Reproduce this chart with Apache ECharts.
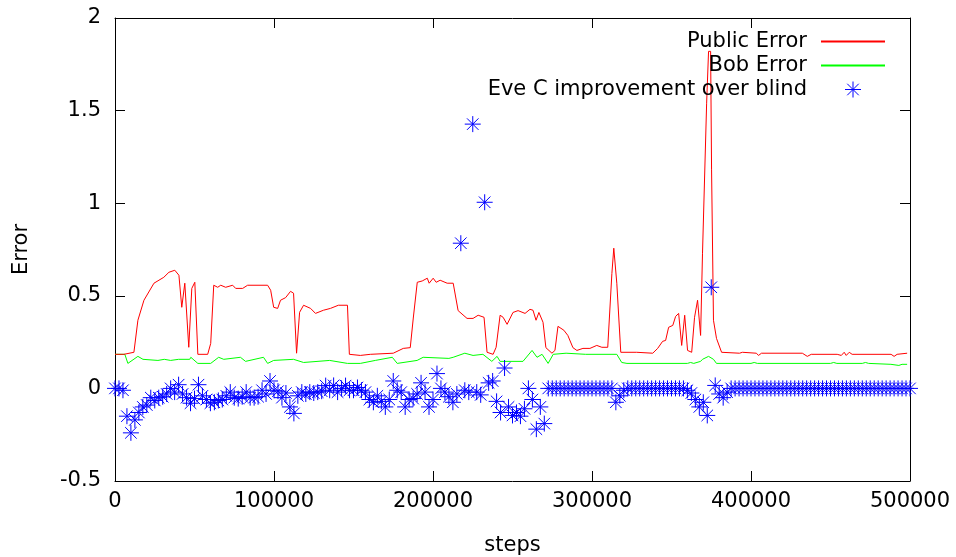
<!DOCTYPE html>
<html>
<head>
<meta charset="utf-8">
<script src="https://cdn.jsdelivr.net/npm/echarts@6/dist/echarts.min.js"></script>
<style>
html,body{margin:0;padding:0;background:#fff;}
#chart{width:956px;height:557px;}
</style>
</head>
<body>
<div id="chart"></div>
<script>
// ---- data ----
const seriesNames = ['Public Error', 'Bob Error', 'Eve C improvement over blind'];
const xTicks = [0, 100000, 200000, 300000, 400000, 500000];
const yTicks = [-0.5, 0, 0.5, 1, 1.5, 2];

// Public Error: [steps, error]
const publicError = [
  [0,0.184],[5600,0.184],[11900,0.195],[14400,0.368],[18200,0.476],[24500,0.568],[30700,0.6],[33900,0.627],
  [37600,0.638],[40200,0.611],[42000,0.438],[43900,0.568],[46400,0.222],[48300,0.54],[50200,0.573],[52100,0.184],
  [58300,0.184],[60200,0.243],[62100,0.557],[64600,0.546],[66500,0.557],[69600,0.546],[74000,0.557],[75900,0.54],
  [80300,0.54],[83400,0.557],[96000,0.557],[97900,0.53],[99800,0.438],[102300,0.432],[104100,0.476],[107300,0.49],
  [110400,0.524],[112300,0.514],[114200,0.19],[116100,0.411],[118600,0.449],[123000,0.432],[126100,0.405],[131100,0.422],
  [135500,0.432],[140500,0.449],[146200,0.449],[147400,0.184],[154300,0.178],[160600,0.184],[175000,0.19],[181300,0.216],
  [185700,0.22],[187600,0.38],[190100,0.573],[193200,0.58],[196400,0.595],[197600,0.568],[200100,0.595],[202000,0.573],
  [204500,0.584],[208900,0.568],[212700,0.568],[215800,0.42],[221400,0.378],[225200,0.378],[228400,0.395],[232100,0.384],
  [234000,0.195],[237800,0.184],[239700,0.222],[242200,0.395],[244100,0.384],[246600,0.346],[250300,0.41],[253500,0.42],
  [257900,0.405],[261000,0.427],[262900,0.422],[264800,0.368],[266600,0.41],[269200,0.357],[271000,0.22],[274800,0.19],
  [276700,0.205],[278600,0.335],[282300,0.314],[284800,0.286],[288000,0.22],[290500,0.205],[294300,0.216],[298700,0.216],
  [303000,0.232],[306200,0.222],[309900,0.222],[312500,0.62],[313700,0.757],[315600,0.568],[318100,0.195],[328100,0.195],
  [338200,0.19],[341300,0.216],[344400,0.254],[346300,0.259],[348200,0.33],[350800,0.34],[352600,0.389],[354500,0.405],
  [356400,0.232],[358300,0.395],[360100,0.205],[362700,0.195],[364500,0.384],[366400,0.476],[368300,0.286],[369500,0.73],
  [372100,1.54],[373300,1.82],[374600,1.82],[375200,1.18],[376400,0.368],[378300,0.27],[381500,0.195],[392800,0.19],
  [394600,0.195],[403400,0.19],[404700,0.178],[406600,0.19],[432300,0.19],[435400,0.173],[437900,0.184],[454200,0.184],
  [456800,0.178],[458600,0.195],[459900,0.178],[461800,0.195],[463600,0.184],[488100,0.184],[490000,0.173],[491900,0.184],
  [498200,0.19]
];

// Bob Error: [steps, error]
const bobError = [
  [0,0.184],[6200,0.184],[8100,0.135],[14400,0.173],[17600,0.157],[27000,0.151],[31000,0.157],[35000,0.151],
  [40000,0.157],[47000,0.157],[47700,0.168],[52100,0.135],[60200,0.135],[65200,0.168],[68400,0.157],[78900,0.168],
  [82100,0.146],[93400,0.168],[96000,0.135],[99800,0.151],[112300,0.157],[118600,0.14],[135000,0.151],[146200,0.135],
  [154300,0.135],[163700,0.151],[174400,0.168],[177500,0.135],[190000,0.151],[193800,0.168],[210000,0.162],[212700,0.168],
  [220000,0.19],[225200,0.178],[231400,0.184],[237000,0.146],[240300,0.173],[242200,0.146],[256600,0.146],[262300,0.205],
  [265400,0.168],[268600,0.184],[272400,0.135],[275600,0.184],[283700,0.19],[296000,0.184],[315600,0.184],[318700,0.14],
  [322000,0.135],[360000,0.135],[362000,0.14],[364000,0.135],[368300,0.146],[369500,0.157],[373300,0.173],[376400,0.157],
  [378300,0.135],[400000,0.135],[402000,0.14],[404000,0.135],[450000,0.135],[452000,0.14],[454000,0.135],[470000,0.135],
  [472000,0.14],[474000,0.135],[488000,0.13],[493000,0.124],[495000,0.13],[498200,0.13]
];

// Eve C improvement over blind: one value every 2500 steps, from 0 to 500000
const eveStepSize = 2500;
const eveImprovement = [
  0,0,-0.01,-0.15,-0.24,-0.17,-0.13,-0.1,-0.09,-0.05,
  -0.065,-0.05,-0.045,-0.03,0,-0.02,0.02,-0.03,-0.05,-0.08,
  -0.055,0.02,-0.04,-0.06,-0.08,-0.075,-0.065,-0.06,-0.04,-0.02,
  -0.05,-0.055,-0.045,-0.02,-0.05,-0.05,-0.045,-0.01,-0.03,0.04,
  -0.01,-0.015,-0.05,-0.025,-0.1,-0.135,-0.04,-0.02,-0.03,-0.02,
  -0.025,-0.02,-0.015,0.015,-0.01,0.016,-0.02,0,0.015,-0.01,
  -0.01,0.005,-0.01,-0.02,-0.06,-0.075,-0.04,-0.07,-0.1,-0.06,
  0.04,-0.01,-0.02,-0.1,-0.06,-0.055,-0.03,0.03,-0.02,-0.1,
  -0.06,0.08,0,-0.02,-0.045,-0.075,-0.03,0.784,-0.01,-0.02,
  1.427,-0.02,-0.035,1.005,0.03,0.04,-0.07,-0.13,0.11,-0.1,
  -0.146,-0.13,-0.15,-0.11,0,-0.06,-0.22,-0.1,-0.19,0,
  0,0,0,0,0,0,0,0,0,0,
  0,0,0,0,0,0,-0.075,-0.04,-0.01,0,
  0,0,0,0,0,0,0,0,0,0,
  0,0,0,0,-0.01,-0.025,-0.06,-0.1,-0.075,-0.146,
  0.546,0.016,-0.03,-0.05,-0.02,0,0,0,0,0,
  0,0,0,0,0,0,0,0,0,0,
  0,0,0,0,0,0,0,0,0,0,
  0,0,0,0,0,0,0,0,0,0,
  0,0,0,0,0,0,0,0,0,0,
  0
];

// ---- chart ----
const FONT = 'DejaVu Sans';
const eveData = eveImprovement.map((v, i) => [i * eveStepSize, v]);
const starPath = 'path://M0,-1L0,1M-1,0L1,0M-0.72,-0.72L0.72,0.72M-0.72,0.72L0.72,-0.72';

function xAx(pos, show) {
  return {
    type: 'value', position: pos, min: xTicks[0], max: xTicks[xTicks.length - 1], interval: xTicks[1] - xTicks[0],
    axisLine: { show: true, onZero: false, lineStyle: { color: '#000', width: 1 } },
    axisTick: { show: true, inside: true, length: 10, lineStyle: { color: '#000' } },
    axisLabel: { show: show, color: '#000', fontFamily: FONT, fontSize: 21, margin: 10,
      formatter: function (v) { return String(v); } },
    splitLine: { show: false },
    name: show ? 'steps' : '', nameLocation: 'middle', nameGap: 54,
    nameTextStyle: { color: '#000', fontFamily: FONT, fontSize: 21 }
  };
}
function yAx(pos, show) {
  return {
    type: 'value', position: pos, min: yTicks[0], max: yTicks[yTicks.length - 1], interval: yTicks[1] - yTicks[0],
    axisLine: { show: true, onZero: false, lineStyle: { color: '#000', width: 1 } },
    axisTick: { show: true, inside: true, length: 10, lineStyle: { color: '#000' } },
    axisLabel: { show: show, color: '#000', fontFamily: FONT, fontSize: 21, margin: 14,
      formatter: function (v) { return String(v); } },
    splitLine: { show: false },
    name: show ? 'Error' : '', nameLocation: 'middle', nameGap: 83, nameRotate: 90,
    nameTextStyle: { color: '#000', fontFamily: FONT, fontSize: 21 }
  };
}

const chart = echarts.init(document.getElementById('chart'), null, { renderer: 'canvas' });
chart.setOption({
  animation: false,
  backgroundColor: '#fff',
  grid: { left: 115, right: 46, top: 18, bottom: 76, show: false, containLabel: false, outerBoundsMode: 'none' },
  xAxis: [xAx('bottom', true), xAx('top', false)],
  yAxis: [yAx('left', true), yAx('right', false)],
  legend: {
    orient: 'vertical', align: 'right', right: 70, top: 31, padding: 0,
    itemWidth: 64, itemHeight: 16, itemGap: 3,
    textStyle: { color: '#000', fontFamily: FONT, fontSize: 21, lineHeight: 16, padding: [0, 9, 0, 0] },
    data: [
      { name: seriesNames[0], itemStyle: { opacity: 0 } },
      { name: seriesNames[1], itemStyle: { opacity: 0 } },
      { name: seriesNames[2], itemStyle: { color: 'rgba(0,0,0,0)', borderColor: '#0000ff', borderWidth: 1 } }
    ]
  },
  series: [
    {
      name: seriesNames[0], type: 'line', data: publicError, symbol: 'none', xAxisIndex: 0, yAxisIndex: 0,
      lineStyle: { color: '#ff0000', width: 1 }, itemStyle: { color: '#ff0000' }, z: 3
    },
    {
      name: seriesNames[1], type: 'line', data: bobError, symbol: 'none', xAxisIndex: 0, yAxisIndex: 0,
      lineStyle: { color: '#00ff00', width: 1 }, itemStyle: { color: '#00ff00' }, z: 2
    },
    {
      name: seriesNames[2], type: 'scatter', data: eveData, symbol: starPath, symbolSize: 16,
      xAxisIndex: 0, yAxisIndex: 0,
      itemStyle: { color: 'rgba(0,0,0,0)', borderColor: '#0000ff', borderWidth: 1, opacity: 1 }, z: 4
    }
  ]
});
</script>
</body>
</html>
